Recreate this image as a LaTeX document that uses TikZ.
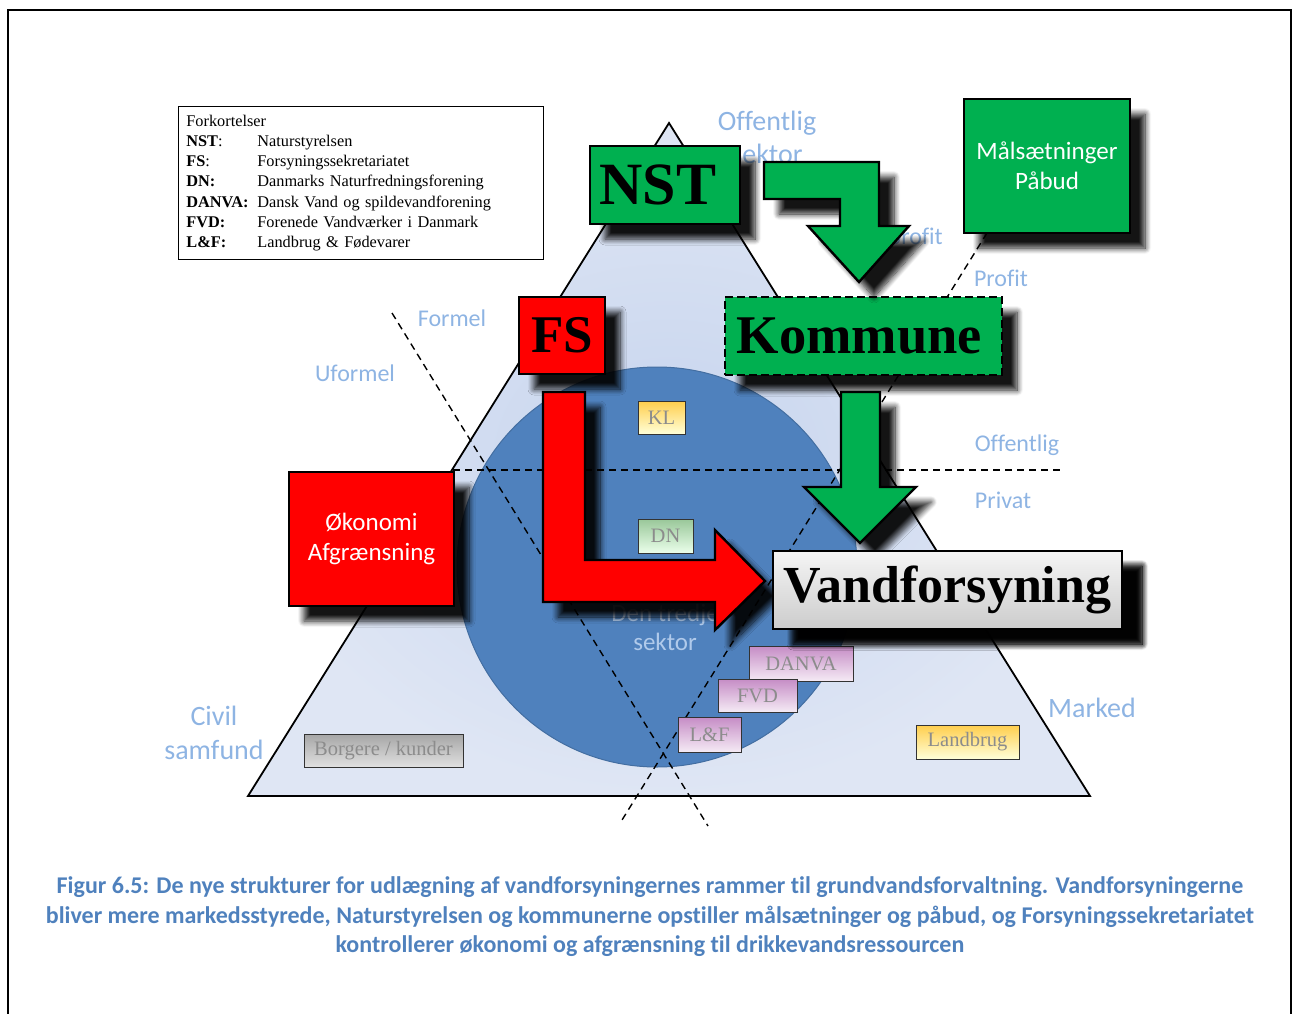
\documentclass[tikz,border=0pt]{standalone}
\usepackage{fontspec}
\setmainfont{Liberation Serif}
\newfontfamily\calfont[Ligatures=NoCommon]{Carlito}
\usetikzlibrary{shadows.blur}
\definecolor{grn}{HTML}{00B050}
\definecolor{lblue}{HTML}{8EB4E3}
\definecolor{cblue}{HTML}{4F81BD}
\definecolor{tri1}{HTML}{C6D4EE}
\definecolor{tri2}{HTML}{DFE6F4}
\begin{document}
\begin{tikzpicture}[x=1pt,y=-1pt,
  lbl/.style={font=\calfont\fontsize{24}{33}\selectfont, text=lblue, align=center, inner sep=0pt},
  biglbl/.style={lbl, font=\calfont\fontsize{28}{34}\selectfont},
  shd/.style={blur shadow={shadow xshift=15pt, shadow yshift=-15pt, shadow opacity=92, shadow blur steps=10, shadow blur radius=6pt}},
  bigbox/.style={draw=black, line width=2.4pt, inner sep=0pt, shd},
  bigword/.style={font=\bfseries\fontsize{53}{53}\selectfont},
  whitetext/.style={font=\calfont\fontsize{25}{30}\selectfont, text=white, align=center},
  smallbox/.style={draw=black!80, line width=0.9pt, inner sep=0pt, font=\fontsize{20.5}{20.5}\selectfont, text=black!45},
  dsh/.style={dash pattern=on 7pt off 5pt, line width=1.4pt},
  arr/.style={draw=black, line width=2.4pt, line join=miter, shd}
]
\useasboundingbox (0,0) rectangle (1293,1014);
% frame
\draw[line width=1.5pt] (8,1014) -- (8,10) -- (1291,10) -- (1291,1014);

% triangle
\shade[inner color=tri1, outer color=tri2] (669,123) -- (1090,796) -- (248,796) -- cycle;
\draw[line width=1.8pt, line join=miter] (669,123) -- (1090,796) -- (248,796) -- cycle;

% circle
\fill[cblue] (657,567) circle[radius=200pt];
\draw[cblue!85!black, line width=1pt] (657,567) circle[radius=200pt];

% dashed dividers
\coordinate (h1) at (453,470);
\coordinate (h2) at (1060,470);
\coordinate (d1a) at (392,313);
\coordinate (d1b) at (708,826);
\coordinate (d2a) at (987,233);
\coordinate (d2b) at (622,820);
\draw[dsh] (h1) -- (h2);
\draw[dsh] (d1a) -- (d1b);
\draw[dsh] (d2a) -- (d2b);

% labels
\node[biglbl, font=\calfont\fontsize{28}{33}\selectfont] (loff) at (767,137) {Offentlig\\sektor};
\node[lbl, anchor=east] (lnon) at (943,238) {Nonprofit};
\node[lbl] (lprof) at (1001,278) {Profit};
\node[lbl] (lform) at (452,318) {Formel};
\node[lbl] (luform) at (355,373) {Uformel};
\node[lbl] (loff2) at (1017,445) {Offentlig};
\node[lbl] (lpriv) at (1003,500) {Privat};
\node[biglbl] (lciv) at (214,733) {Civil\\samfund};
\node[biglbl] (lmark) at (1092,708) {Marked};
\node[lbl, font=\calfont\fontsize{25}{29}\selectfont, text=lblue!70!white] (l3) at (665,627) {Den tredje\\sektor};

% small boxes
\node[smallbox, top color=orange!55!yellow!70, bottom color=yellow!15, minimum width=47pt, minimum height=33pt] (kl) at (661.5,417.5) {KL};
\node[smallbox, top color=green!45!black!40!white, bottom color=green!8, minimum width=55pt, minimum height=34pt] (dn) at (665.5,536) {DN};
\node[smallbox, top color=violet!45, bottom color=violet!8, minimum width=104pt, minimum height=35pt] (danva) at (801,663.5) {DANVA};
\node[smallbox, top color=violet!45, bottom color=violet!8, minimum width=79pt, minimum height=33pt] (fvd) at (757.5,695.5) {FVD};
\node[smallbox, top color=violet!45, bottom color=violet!8, minimum width=63pt, minimum height=35pt] (lf) at (709.5,734.5) {L\&F};
\node[smallbox, top color=black!35, bottom color=black!12, minimum width=159pt, minimum height=33pt] (borg) at (383.5,750.5) {Borgere / kunder};
\node[smallbox, top color=orange!55!yellow!70, bottom color=yellow!15, minimum width=103pt, minimum height=34pt] (land) at (967.5,742) {Landbrug};

% legend
\node[draw, line width=0.8pt, anchor=north west, inner xsep=8pt, inner ysep=4pt, text width=349pt, minimum height=153pt, align=left, font=\fontsize{16.3}{20.2}\selectfont] (leg) at (178,106) {%
\begin{tabular}{@{}p{71pt}@{}l@{}}
\multicolumn{2}{@{}l@{}}{Forkortelser}\\
\textbf{NST}: & Naturstyrelsen\\
\textbf{FS}: & Forsyningssekretariatet\\
\textbf{DN:} & Danmarks Naturfredningsforening\\
\textbf{DANVA:} & Dansk Vand og spildevandforening\\
\textbf{FVD:} & Forenede Vandværker i Danmark\\
\textbf{L\&F:} & Landbrug \& Fødevarer
\end{tabular}};

% big boxes
\node[bigbox, fill=grn, minimum width=150pt, minimum height=78pt] (nst) at (665,185) {};
\node[bigbox, fill=red, minimum width=86pt, minimum height=77pt] (fs) at (562,335.5) {};
\node[bigbox, fill=grn, dashed, dash pattern=on 8pt off 4pt, minimum width=277pt, minimum height=78pt] (kom) at (863.5,336) {};
\node[bigbox, fill=grn, minimum width=166pt, minimum height=134pt] (maal) at (1047,166) {};
\node[bigbox, fill=red, minimum width=165pt, minimum height=134pt] (oek) at (371.5,539) {};

% arrows
\filldraw[arr, fill=grn] (764,162) -- (879,162) -- (879,226) -- (909,226) -- (859,282) -- (808,226) -- (840,226) -- (840,199) -- (764,199) -- cycle;
\filldraw[arr, fill=grn] (841,392) -- (880,392) -- (880,487) -- (916,487) -- (860,543) -- (804,487) -- (841,487) -- cycle;
\filldraw[arr, fill=red] (543,392) -- (585,392) -- (585,560) -- (715,560) -- (715,530) -- (765,581) -- (715,630) -- (715,602) -- (543,602) -- cycle;

\node[bigbox, blur shadow={shadow xshift=20pt, shadow yshift=-15pt, shadow opacity=92, shadow blur steps=10, shadow blur radius=6pt}, top color=black!4, bottom color=black!20, minimum width=349pt, minimum height=78pt] (vand) at (947.5,590) {};

% box texts
\node[bigword, font=\bfseries\fontsize{60}{60}\selectfont] at ([xshift=-7pt]nst.center) {NST};
\node[bigword] at (fs.center) {FS};
\node[bigword, font=\bfseries\fontsize{54.5}{54.5}\selectfont] at ([xshift=-4pt]kom.center) {Kommune};
\node[bigword, font=\bfseries\fontsize{52}{52}\selectfont] at (vand.center) {Vandforsyning};
\node[whitetext] at (maal.center) {Målsætninger\\Påbud};
\node[whitetext] at (oek.center) {Økonomi\\Afgrænsning};

% caption
\node[font=\calfont\bfseries\fontsize{24}{29.5}\selectfont, text=cblue, align=center] (cap) at (650,917) {Figur 6.5: De nye strukturer for udlægning af vandforsyningernes rammer til grundvandsforvaltning. Vandforsyningerne\\bliver mere markedsstyrede, Naturstyrelsen og kommunerne opstiller målsætninger og påbud, og Forsyningssekretariatet\\kontrollerer økonomi og afgrænsning til drikkevandsressourcen};
\end{tikzpicture}
\end{document}
